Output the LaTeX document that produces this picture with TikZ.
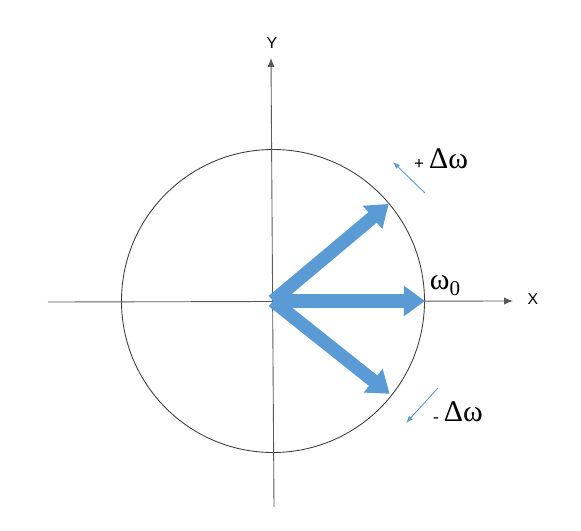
\documentclass[tikz,border=0pt]{standalone}
\usepackage{fontspec}
\setmainfont{Liberation Serif}
\setsansfont{Liberation Sans}
\usetikzlibrary{arrows.meta,positioning}
\definecolor{phasorblue}{RGB}{91,155,213}

\begin{document}
\begin{tikzpicture}[
    axis/.style={draw=black!65, line width=0.5pt, -{Latex[length=5pt,width=4pt]}},
    phasor/.style={draw=phasorblue, line width=7.6pt, -{Triangle[length=0.42cm,width=0.58cm]}},
    shiftarrow/.style={draw=phasorblue, line width=0.5pt, -{Latex[length=4pt,width=3pt]}},
    axlabel/.style={font=\sffamily\small, inner sep=1pt},
    freq/.style={font=\fontsize{17}{17}\selectfont, inner sep=1pt}]
    \useasboundingbox (-5.46,-4.60) rectangle (6.16,6.02);

    % Points of the axes
    \coordinate (O) at (0,0);
    \coordinate (xl) at (-4.50,-0.02);
    \coordinate (xr) at (4.80,0);
    \coordinate (yb) at (0.02,-4.12);
    \coordinate (yt) at (-0.04,4.86);

    % Draw circle and axes
    \draw[black!75, line width=0.5pt] (O) circle (3.03);
    \draw[axis] (xl) -- (xr);
    \draw[axis] (yb) -- (yt);
    \node[axlabel] (ylab) at (-0.02,5.16) {Y};
    \node[axlabel] (xlab) at (5.20,0.04) {X};

    % Three phasors from the origin
    \foreach \n/\a/\r in {up/40/3.02, mid/0/3.04, down/-38.5/2.98} {
      \coordinate (\n) at (\a:\r);
      \draw[phasor] (O) -- (\n);
    }

    % Frequency labels
    \node[freq] (w0) at (3.44,0.30) {ω\raisebox{-0.45ex}{\fontsize{12}{12}\selectfont 0}};
    \node[freq] (pdw) at (3.36,2.84) {\raisebox{-0.05ex}{\fontsize{10}{10}\selectfont\bfseries +}\,Δω};
    \node[freq] (mdw) at (3.70,-2.22) {\raisebox{-0.1ex}{\fontsize{10}{10}\selectfont -}\,Δω};

    % Small arrows showing the shift
    \coordinate (ps) at (3.04,2.16);
    \coordinate (pe) at (2.40,2.78);
    \coordinate (ms) at (3.30,-1.74);
    \coordinate (me) at (2.66,-2.44);
    \draw[shiftarrow] (ps) -- (pe);
    \draw[shiftarrow] (ms) -- (me);
\end{tikzpicture}
\end{document}
